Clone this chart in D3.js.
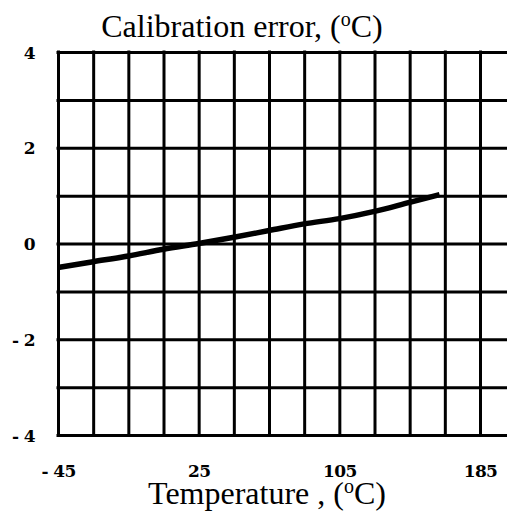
<!DOCTYPE html>
<html>
<head>
<meta charset="utf-8">
<script src="https://cdn.jsdelivr.net/npm/d3@7"></script>
<style>
  body { margin: 0; background: #fff; }
  svg { display: block; }
  .grid line { stroke: #000; stroke-width: 3; }
  .grid path { display: none; }
  .lbl path, .lbl line { display: none; }
  .title { font-family: "Liberation Serif", "Times New Roman", serif; font-size: 32px; fill: #000; }
</style>
</head>
<body>
<svg id="chart"></svg>
<script>
var width = 507, height = 514

// calibration error vs temperature
var temps = [-55, -35, -15, 5, 25, 45, 65, 85, 105, 125, 145, 162]
var errors = [-0.5, -0.38, -0.26, -0.12, 0, 0.13, 0.27, 0.41, 0.52, 0.67, 0.86, 1.02]

var xGrid = d3.range(-55, 186, 20)
var yGrid = [-4, -3, -2, -1, 0, 1, 2, 3, 4]
var xTickValues = [-55, 25, 105, 185]
var xTickLabels = ["- 45", "25", "105", "185"]
var yTickValues = [4, 2, 0, -2, -4]
var yTickLabels = ["4", "2", "0", "- 2", "- 4"]

var svg = d3.select("#chart")
    .attr("width", width)
    .attr("height", height)

var x = d3.scaleLinear()
    .domain([-55, 185])
    .range([58, 480])

var y = d3.scaleLinear()
    .domain([-4, 4])
    .range([435, 52])

// vertical grid
svg.append("g")
    .attr("class", "grid")
    .attr("transform", "translate(0," + y(-4) + ")")
    .call(d3.axisBottom(x).tickValues(xGrid).tickSize(-(y(-4) - y(4))).tickFormat(""))
    .selectAll("line")
    .attr("y2", -(y(-4) - y(4)) - 1.5)
    .attr("y1", 1.5)

// horizontal grid, running off the right edge
svg.append("g")
    .attr("class", "grid")
    .attr("transform", "translate(" + x(-55) + ",0)")
    .call(d3.axisLeft(y).tickValues(yGrid).tickSize(-(width - x(-55))).tickFormat(""))
    .selectAll("line")
    .attr("x2", width - x(-55))
    .attr("x1", -1.5)

// curve
var line = d3.line()
    .x((d, i) => x(temps[i]))
    .y(d => y(d))
    .curve(d3.curveMonotoneX)

svg.append("path")
    .datum(errors)
    .attr("d", line)
    .attr("fill", "none")
    .attr("stroke", "#000")
    .attr("stroke-width", 5.5)

// tick labels
function styleLbl(sel) {
    sel.attr("font-family", "DejaVu Serif, serif")
        .attr("font-weight", "bold")
        .attr("font-size", 17)
        .attr("letter-spacing", -0.6)
        .attr("fill", "#000")
}

svg.append("g")
    .attr("class", "lbl")
    .attr("transform", "translate(0,477)")
    .call(d3.axisBottom(x).tickValues(xTickValues).tickSize(0).tickPadding(0)
        .tickFormat((d, i) => xTickLabels[i]))
    .selectAll("text")
    .attr("y", 0)
    .attr("dy", 0)
    .call(styleLbl)

svg.append("g")
    .attr("class", "lbl")
    .attr("transform", "translate(35,0)")
    .call(d3.axisLeft(y).tickValues(yTickValues).tickSize(0).tickPadding(0)
        .tickFormat((d, i) => yTickLabels[i]))
    .selectAll("text")
    .attr("x", 0)
    .attr("dy", 6)
    .call(styleLbl)

// titles
var t1 = svg.append("text")
    .attr("class", "title")
    .attr("x", 242)
    .attr("y", 37)
    .attr("text-anchor", "middle")
t1.append("tspan").text("Calibration error, (")
t1.append("tspan").text("o").attr("font-size", "20px").attr("dy", -11)
t1.append("tspan").text("C)").attr("dy", 11)

var t2 = svg.append("text")
    .attr("class", "title")
    .attr("x", 267)
    .attr("y", 504)
    .attr("text-anchor", "middle")
t2.append("tspan").text("Temperature , (")
t2.append("tspan").text("o").attr("font-size", "20px").attr("dy", -11)
t2.append("tspan").text("C)").attr("dy", 11)
</script>
</body>
</html>
